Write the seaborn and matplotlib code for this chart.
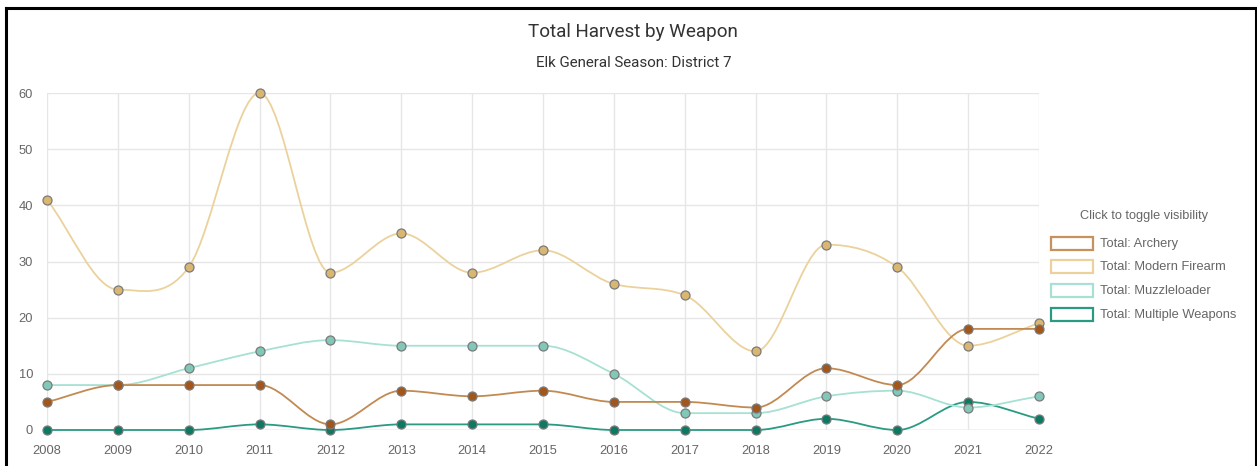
import numpy as np
import pandas as pd
import matplotlib
matplotlib.use("Agg")
import matplotlib.pyplot as plt
import seaborn as sns
from matplotlib.path import Path
from matplotlib.patches import PathPatch, Rectangle
from matplotlib.lines import Line2D

years = [2008, 2009, 2010, 2011, 2012, 2013, 2014, 2015, 2016, 2017, 2018, 2019, 2020, 2021, 2022]
archery = [5, 8, 8, 8, 1, 7, 6, 7, 5, 5, 4, 11, 8, 18, 18]
modern_firearm = [41, 25, 29, 60, 28, 35, 28, 32, 26, 24, 14, 33, 29, 15, 19]
muzzleloader = [8, 8, 11, 14, 16, 15, 15, 15, 10, 3, 3, 6, 7, 4, 6]
multiple_weapons = [0, 0, 0, 1, 0, 1, 1, 1, 0, 0, 0, 2, 0, 5, 2]

series_names = ["Total: Archery", "Total: Modern Firearm", "Total: Muzzleloader", "Total: Multiple Weapons"]
y_ticks = [0, 10, 20, 30, 40, 50, 60]

title = "Total Harvest by Weapon"
subtitle = "Elk General Season: District 7"
legend_title = "Click to toggle visibility"

line_colors = ["#c28a52", "#ebd29c", "#a6e1d3", "#2a9a82"]
marker_colors = ["#a2561c", "#d9b772", "#82c8b8", "#0c7a62"]

sns.set_theme(style="white")
plt.rcParams["font.family"] = ["Liberation Sans", "DejaVu Sans"]

W, H = 1257, 466
fig = plt.figure(figsize=(W / 100, H / 100), dpi=100)
fig.patch.set_facecolor("white")

def fx(px):
    return px / W

def fy(py):
    return 1 - py / H

x0, x1, ytop, ybot = 47, 1039, 93, 430
ax = fig.add_axes([fx(x0), fy(ybot), fx(x1) - fx(x0), fy(ytop) - fy(ybot)])
ax.set_xlim(2008, 2022)
ax.set_ylim(0, 60)
for s in ax.spines.values():
    s.set_visible(False)
ax.set_xticks(years)
ax.set_yticks(y_ticks)
ax.set_xticklabels([str(y) for y in years])
ax.grid(True, color="#e6e6e6", linewidth=1.0)
ax.tick_params(axis="both", which="both", length=7, width=1.0, color="#e6e6e6",
               labelcolor="#666666", labelsize=9.3, pad=3)
ax.tick_params(axis="x", pad=4)
ax.set_axisbelow(True)
ax.axhline(0, color="#d6d6d6", lw=1.0, zorder=0.5)


def monotone_path(x, y):
    x = np.asarray(x, float)
    y = np.asarray(y, float)
    n = len(x)
    dx = np.diff(x)
    dy = np.diff(y)
    delta = dy / dx
    m = np.zeros(n)
    m[0] = delta[0]
    m[-1] = delta[-1]
    for i in range(1, n - 1):
        if delta[i - 1] * delta[i] <= 0:
            m[i] = 0
        else:
            m[i] = (delta[i - 1] + delta[i]) / 2
    for i in range(n - 1):
        if abs(delta[i]) < 1e-12:
            m[i] = 0
            m[i + 1] = 0
            continue
        a = m[i] / delta[i]
        b = m[i + 1] / delta[i]
        if a == 0 or b == 0:
            continue
        s = a * a + b * b
        if s > 9:
            t = 3 / np.sqrt(s)
            m[i] = t * a * delta[i]
            m[i + 1] = t * b * delta[i]
    verts = [(x[0], y[0])]
    codes = [Path.MOVETO]
    for i in range(n - 1):
        h = dx[i] / 3
        verts += [(x[i] + h, y[i] + m[i] * h), (x[i + 1] - h, y[i + 1] - m[i + 1] * h), (x[i + 1], y[i + 1])]
        codes += [Path.CURVE4] * 3
    return Path(verts, codes)


all_series = [archery, modern_firearm, muzzleloader, multiple_weapons]
for k in reversed(range(4)):
    vals = all_series[k]
    z = 10 - k * 2
    patch = PathPatch(monotone_path(years, vals), fill=False, edgecolor=line_colors[k], lw=1.3,
                      zorder=z, clip_on=False)
    ax.add_patch(patch)
    df = pd.DataFrame({"year": years, "value": vals})
    sns.scatterplot(data=df, x="year", y="value", ax=ax, color=marker_colors[k], s=42,
                    edgecolor="#7a7a7a", linewidth=0.9, zorder=z + 1, clip_on=False, legend=False)

ax.set_xlabel("")
ax.set_ylabel("")

fig.text(fx(633), fy(32), title, ha="center", va="center", fontsize=13.6, color="#333333",
         family=["Roboto", "DejaVu Sans"])
fig.text(fx(634), fy(63), subtitle, ha="center", va="center", fontsize=10.9, color="#333333",
         family=["Roboto", "DejaVu Sans"])

# legend
fig.text(fx(1144), fy(216), legend_title, ha="center", va="center", fontsize=9.2, color="#666666")
rows = [243, 266, 290, 314]
for k, name in enumerate(series_names):
    yc = rows[k]
    fig.add_artist(Rectangle((fx(1051), fy(yc + 6.5)), fx(42), 13 / H, transform=fig.transFigure,
                             facecolor="white", edgecolor=line_colors[k] if k != 0 else "#c8905c",
                             lw=1.6))
    fig.text(fx(1100), fy(yc + 1), name, ha="left", va="center", fontsize=9.3, color="#666666")

# outer frame
for (xa, ya, xb, yb) in [(6, 8, 6, H), (6, 8, 1255.5, 8), (1255.5, 8, 1255.5, H)]:
    fig.add_artist(Line2D([fx(xa), fx(xb)], [fy(ya), fy(yb)], transform=fig.transFigure,
                          color="black", lw=2.2, solid_capstyle="projecting"))

fig.savefig("out.png", dpi=100)
